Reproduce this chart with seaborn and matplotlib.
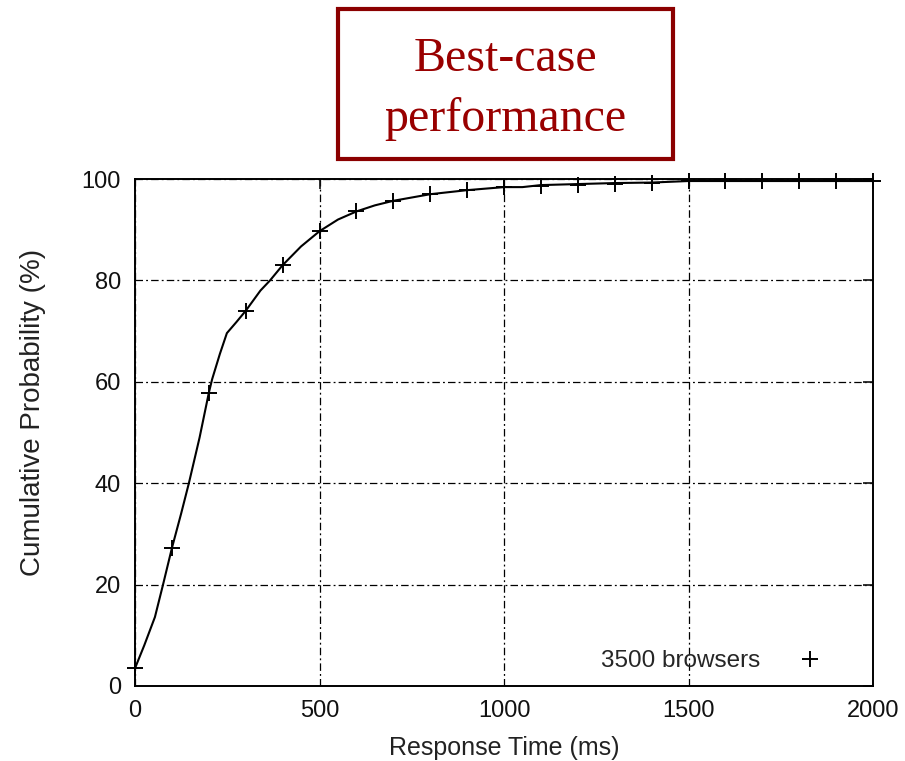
import matplotlib
matplotlib.use("Agg")
import matplotlib.pyplot as plt
import seaborn as sns
import pandas as pd
from matplotlib.patches import Rectangle

# Curve (response time in ms vs cumulative probability in %)
curve_ms = [0, 25, 54, 76, 100, 125, 146, 175, 200, 209, 230, 249, 275, 300,
            340, 366, 400, 450, 500, 550, 600, 650, 700, 800, 900, 1000, 1050,
            1100, 1200, 1300, 1400, 1500, 1600, 2000]
curve_pct = [3.5, 8, 13.6, 20, 27.2, 34, 40, 49, 57.8, 60.5, 65.5, 69.6, 71.8, 74,
             78, 80, 83, 86.7, 89.7, 92, 93.6, 94.8, 95.7, 97, 97.8, 98.4, 98.4,
             98.8, 99.0, 99.2, 99.3, 99.6, 99.6, 99.6]

# Point markers every 100 ms
marker_ms = [0, 100, 200, 300, 400, 500, 600, 700, 800, 900, 1000, 1100, 1200,
             1300, 1400, 1500, 1600, 1700, 1800, 1900, 2000]
marker_pct = [3.5, 27.2, 57.8, 74.0, 83.0, 89.7, 93.6, 95.7, 97.0, 97.8, 98.4,
              98.6, 98.8, 99.0, 99.2, 99.6, 99.6, 99.6, 99.6, 99.6, 99.6]

series_label = "3500 browsers"
title_text = "Best-case\nperformance"
x_ticks = [0, 500, 1000, 1500, 2000]
y_ticks = [0, 20, 40, 60, 80, 100]

sns.set_style("white")
plt.rcParams['font.family'] = ['Liberation Sans', 'DejaVu Sans']

fig = plt.figure(figsize=(9.05, 7.61), dpi=100)
ax = fig.add_axes([135/905, 75/761, (873-135)/905, (686-179)/761])

df_curve = pd.DataFrame({"ms": curve_ms, "pct": curve_pct})
df_mark = pd.DataFrame({"ms": marker_ms, "pct": marker_pct})

sns.lineplot(data=df_curve, x="ms", y="pct", ax=ax, color="black", lw=1.5,
             legend=False, zorder=3)
ax.plot(df_mark["ms"], df_mark["pct"], linestyle="none", marker="+",
        markersize=11, markeredgewidth=1.4, color="black", label=series_label,
        zorder=4, clip_on=False)

ax.set_xlim(0, 2000)
ax.set_ylim(0, 100)
ax.set_xticks(x_ticks)
ax.set_yticks(y_ticks)
ax.grid(True, color="black", linestyle=(0, (6, 2.5, 1.5, 2.5)), linewidth=0.9)
ax.tick_params(direction="in", length=7, width=1.2, top=True, right=True,
               labelsize=17, colors="#111111")
ax.tick_params(axis="y", pad=10)
ax.tick_params(axis="x", pad=10)
for s in ax.spines.values():
    s.set_color("black")
    s.set_linewidth(1.4)

ax.set_xlabel("Response Time (ms)", fontsize=18, labelpad=10, color="#222222")
ax.set_ylabel("Cumulative Probability (%)", fontsize=20, color="#222222")
ax.yaxis.set_label_coords(-0.12, 0.54)

leg = ax.legend(loc="center right", frameon=False, markerfirst=False,
                fontsize=17.5, handlelength=1.5, borderaxespad=0, borderpad=0,
                handletextpad=1.3, bbox_to_anchor=(0.939, 0.049))

# Title box
fig.patches.append(Rectangle((338/905, 1 - 159/761), (673-338)/905, (159-9)/761,
                             transform=fig.transFigure, fill=False,
                             edgecolor="#8B0000", linewidth=3))
fig.text(505/905, 1 - 89/761, title_text, ha="center", va="center",
         fontsize=34.5, color="#990000", family=["Liberation Serif", "DejaVu Serif"],
         linespacing=1.45)

fig.savefig("out.png", dpi=100)
